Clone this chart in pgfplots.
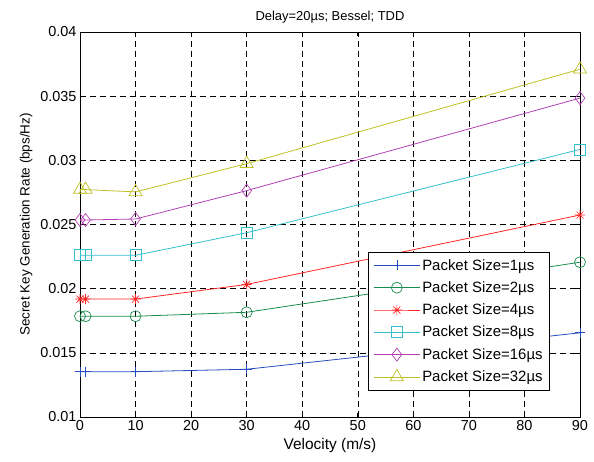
\documentclass[border=0pt]{standalone}
\usepackage{fontspec}
\setmainfont{Liberation Sans}
\usepackage{pgfplots}
\pgfplotsset{compat=1.18}
\definecolor{colB}{rgb}{0.15,0.3,0.75}
\definecolor{colG}{rgb}{0.1,0.55,0.3}
\definecolor{colR}{rgb}{1,0.15,0.15}
\definecolor{colC}{rgb}{0.2,0.75,0.8}
\definecolor{colM}{rgb}{0.7,0.25,0.7}
\definecolor{colY}{rgb}{0.75,0.75,0.15}
\newcommand{\mus}{\textmu s}
\pgfdeclareplotmark{matstar}{%
  \pgfpathmoveto{\pgfqpoint{-\pgfplotmarksize}{0pt}}\pgfpathlineto{\pgfqpoint{\pgfplotmarksize}{0pt}}%
  \pgfpathmoveto{\pgfqpoint{0pt}{-\pgfplotmarksize}}\pgfpathlineto{\pgfqpoint{0pt}{\pgfplotmarksize}}%
  \pgfpathmoveto{\pgfqpoint{-0.7\pgfplotmarksize}{-0.7\pgfplotmarksize}}\pgfpathlineto{\pgfqpoint{0.7\pgfplotmarksize}{0.7\pgfplotmarksize}}%
  \pgfpathmoveto{\pgfqpoint{-0.7\pgfplotmarksize}{0.7\pgfplotmarksize}}\pgfpathlineto{\pgfqpoint{0.7\pgfplotmarksize}{-0.7\pgfplotmarksize}}%
  \pgfusepathqstroke}
\begin{document}
\begin{tikzpicture}
\useasboundingbox (-80bp,-45bp) rectangle (514bp,417bp);
\begin{axis}[
  at={(0,0)}, anchor=south west,
  scale only axis, width=500bp, height=385bp,
  xmin=0, xmax=90, ymin=0.01, ymax=0.04,
  xtick={0,10,...,90},
  ytick={0.01,0.015,0.02,0.025,0.03,0.035,0.04},
  yticklabels={0.01,0.015,0.02,0.025,0.03,0.035,0.04},
  scaled y ticks=false,
  /pgf/number format/assume math mode=true,
  tick align=inside,
  major tick length=4bp,
  tick style={black, line width=0.6pt},
  axis line style={black, line width=0.8pt},
  grid=major,
  major grid style={black, dash pattern=on 6bp off 4bp, line width=0.5pt},
  ticklabel style={font=\fontsize{14.5}{14.5}\selectfont},
  xlabel={Velocity (m/s)},
  ylabel={Secret Key Generation Rate (bps/Hz)},
  xlabel style={font=\fontsize{15.5}{15.5}\selectfont, yshift=-1bp},
  ylabel style={font=\fontsize{13.5}{13.5}\selectfont, yshift=1bp},
  title={Delay=20\mus; Bessel; TDD},
  title style={font=\fontsize{13}{13}\selectfont, yshift=-1bp},
  legend style={at={(rel axis cs:0.94,0.429)}, anchor=north east,
    font=\fontsize{15}{15}\selectfont, draw=black, line width=0.8pt,
    row sep=6bp, inner xsep=5bp, inner ysep=5bp, cells={anchor=west}},
  legend cell align=left,
  legend image code/.code={
    \draw[#1, line width=0.8pt, mark repeat=2, mark phase=2] plot coordinates {(0bp,0bp) (23bp,0bp) (46bp,0bp)};
  },
  every axis plot/.append style={line width=0.8pt, mark options={solid, line width=0.7pt, fill=none}},
]
\addplot[colB, mark=+, mark size=5bp] coordinates {(0,0.01353) (1,0.01353) (10,0.01353) (30,0.01372) (90,0.01656)};
\addplot[colG, mark=o, mark size=5.5bp] coordinates {(0,0.01785) (1,0.01785) (10,0.01785) (30,0.01816) (90,0.02206)};
\addplot[colR, mark=matstar, mark size=5bp] coordinates {(0,0.01919) (1,0.01919) (10,0.01919) (30,0.02033) (90,0.02574)};
\addplot[colC, mark=square, mark size=5.5bp] coordinates {(0,0.02260) (1,0.02260) (10,0.02260) (30,0.02436) (90,0.03085)};
\addplot[colM, mark=diamond, mark size=6.5bp] coordinates {(0,0.02535) (1,0.02535) (10,0.02543) (30,0.02764) (90,0.03485)};
\addplot[colY, mark=triangle, mark size=7.5bp] coordinates {(0,0.02772) (1,0.02772) (10,0.02754) (30,0.02974) (90,0.0371)};
\legend{Packet Size=1\mus, Packet Size=2\mus, Packet Size=4\mus, Packet Size=8\mus, Packet Size=16\mus, Packet Size=32\mus}
\end{axis}
\end{tikzpicture}
\end{document}
